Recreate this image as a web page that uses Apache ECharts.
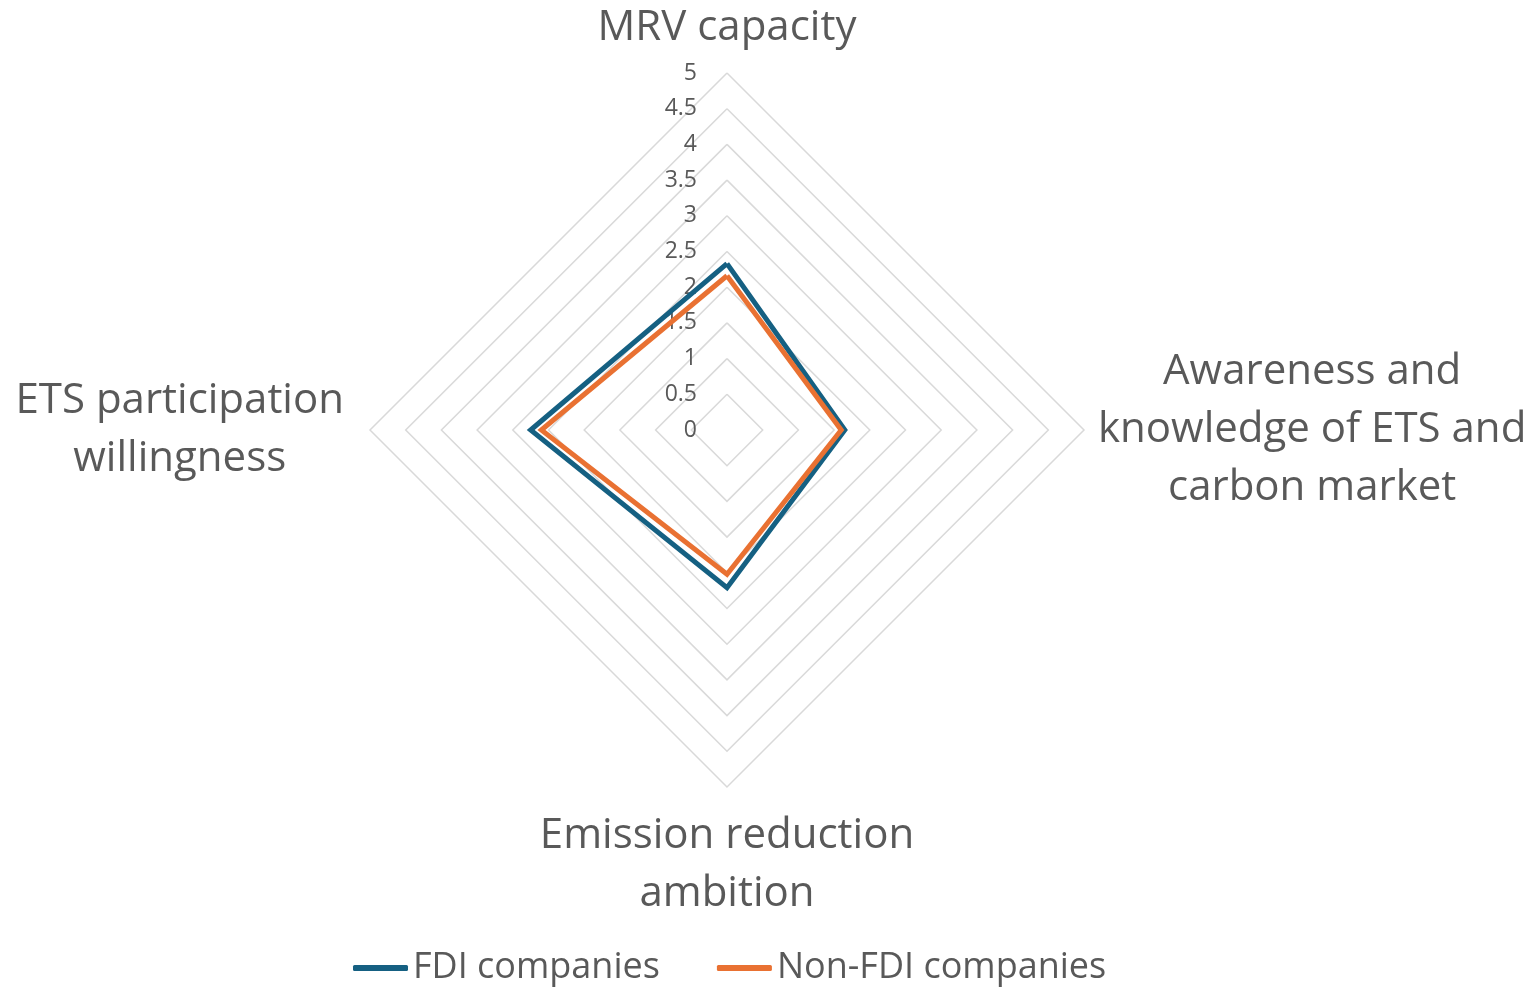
<!DOCTYPE html>
<html>
<head>
<meta charset="utf-8">
<script src="https://cdn.jsdelivr.net/npm/echarts@6/dist/echarts.min.js"></script>
<style>
html,body{margin:0;padding:0;background:#fff;}
#chart{width:1532px;height:987px;}
</style>
</head>
<body>
<div id="chart"></div>
<script>
// Indicators in ECharts (counter-clockwise) order starting at top
var indicatorNames = [
  'MRV capacity',
  'ETS participation\nwillingness',
  'Emission reduction\nambition',
  'Awareness and\nknowledge of ETS and\ncarbon market'
];
var seriesNames = ['FDI companies', 'Non-FDI companies'];
var fdiValues = [2.33, 2.75, 2.21, 1.65];
var nonFdiValues = [2.16, 2.60, 2.02, 1.60];
var axisMin = 0;
var axisMax = 5;

var TEXT = '#595959';
var FONT = 'Open Sans';
var nameGaps = [16, 26, 20, 14];

var chart = echarts.init(document.getElementById('chart'));
var option = {
  backgroundColor: '#ffffff',
  animation: false,
  color: ['#156082', '#E97132'],
  legend: {
    data: seriesNames,
    bottom: -4,
    left: 348,
    itemWidth: 55,
    itemHeight: 6,
    itemGap: 57,
    icon: 'roundRect',
    textStyle: { color: TEXT, fontSize: 36, fontFamily: FONT }
  },
  radar: {
    center: [727, 430],
    radius: 357,
    startAngle: 90,
    shape: 'polygon',
    splitNumber: 10,
    nameGap: 16,
    axisName: {
      color: TEXT,
      fontSize: 42,
      fontFamily: FONT,
      lineHeight: 58,
      formatter: function (name) {
        return name.split('\n').map(function (s) { return '{c|' + s + '}'; }).join('\n');
      },
      rich: {
        c: { align: 'center', color: TEXT, fontSize: 42, fontFamily: FONT, lineHeight: 58 }
      }
    },
    axisLine: { show: false },
    axisTick: { show: false },
    splitArea: { show: false },
    splitLine: { lineStyle: { color: '#D9D9D9', width: 1.5 } },
    axisLabel: { show: true, color: TEXT, fontSize: 23, fontFamily: FONT, margin: 30 },
    indicator: indicatorNames.map(function (n, i) {
      var ind = { name: n, min: axisMin, max: axisMax, nameGap: nameGaps[i] };
      if (i > 0) ind.axisLabel = { show: false };
      return ind;
    })
  },
  series: [{
    type: 'radar',
    symbol: 'none',
    data: [
      { name: seriesNames[0], value: fdiValues, lineStyle: { width: 5, join: 'miter' } },
      { name: seriesNames[1], value: nonFdiValues, lineStyle: { width: 5, join: 'miter' } }
    ]
  }]
};
chart.setOption(option);
</script>
</body>
</html>
